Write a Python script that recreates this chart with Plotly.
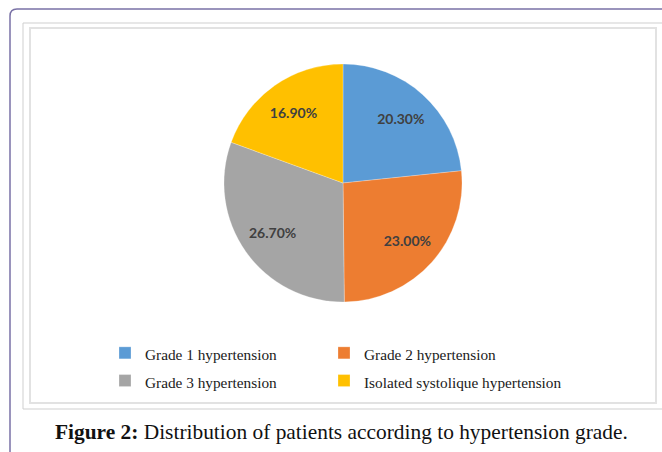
import plotly.graph_objects as go

labels = ["Grade 1 hypertension", "Grade 2 hypertension", "Grade 3 hypertension", "Isolated systolique hypertension"]
values = [20.30, 23.00, 26.70, 16.90]
colors = ["#5B9BD5", "#ED7D31", "#A5A5A5", "#FFC000"]
caption_bold = "Figure 2:"
caption_text = " Distribution of patients according to hypertension grade."

W, H = 662, 452
ML, MR = 81, 81
PW = W - ML - MR

def px(x):
    return (x - ML) / PW

def py(y):
    return 1 - y / H

dom = dict(x=[px(224), px(462)], y=[py(302), py(64)])

# base pie: coloured slices + legend
fig = go.Figure(go.Pie(
    labels=[f"<span style='font-size:15.3px'>{l}</span>" for l in labels],
    values=values, sort=False, direction="clockwise", rotation=0,
    marker=dict(colors=colors, line=dict(color="rgba(255,255,255,0.5)", width=0.5)),
    textinfo="none", domain=dom, hoverinfo="skip",
))
# overlay ring carrying the percentage labels further out
fig.add_trace(go.Pie(
    labels=labels, values=values, sort=False, direction="clockwise", rotation=0, hole=0.45,
    marker=dict(colors=["rgba(0,0,0,0)"] * len(values), line=dict(width=0)),
    texttemplate="%{value:.2f}%", textposition="inside", insidetextorientation="horizontal",
    textfont=dict(family="Lato", size=14, color="#404040", weight="bold"),
    domain=dom, showlegend=False, hoverinfo="label+value",
))

shapes = []
shapes.append(dict(type="path", xref="paper", yref="paper",
    path=f"M {px(10)},{py(460)} L {px(10)},{py(16)} Q {px(10)},{py(9)} {px(17)},{py(9)} L {px(670)},{py(9)}",
    line=dict(color="#7A72A6", width=1.5)))
shapes.append(dict(type="rect", xref="paper", yref="paper",
    x0=px(23), x1=px(670), y0=py(409), y1=py(23), line=dict(color="#CFCFCF", width=1)))
shapes.append(dict(type="rect", xref="paper", yref="paper",
    x0=px(30), x1=px(656), y0=py(403), y1=py(28), line=dict(color="#E2E2E2", width=2)))

fig.update_layout(
    width=W, height=H, margin=dict(l=ML, r=MR, t=0, b=0, autoexpand=False),
    paper_bgcolor="white", plot_bgcolor="white",
    shapes=shapes,
    showlegend=True,
    legend=dict(orientation="h", x=px(105), xanchor="left", y=py(334), yanchor="top",
                entrywidth=174, entrywidthmode="pixels", borderwidth=0,
                font=dict(family="Liberation Serif", size=19, color="#1A1A1A"),
                bgcolor="rgba(0,0,0,0)", traceorder="normal"),
    annotations=[dict(text=f"<b>{caption_bold}</b>{caption_text}", xref="paper", yref="paper",
                      x=px(341), y=py(432), xanchor="center", yanchor="middle", showarrow=False,
                      font=dict(family="Liberation Serif", size=21.4, color="#111111"))],
)

post = """
document.body.style.margin='0';
document.querySelectorAll('.legend [clip-path]').forEach(function(e){ e.removeAttribute('clip-path'); });
"""
fig.write_html("out.html", config={"displayModeBar": False}, post_script=post)
